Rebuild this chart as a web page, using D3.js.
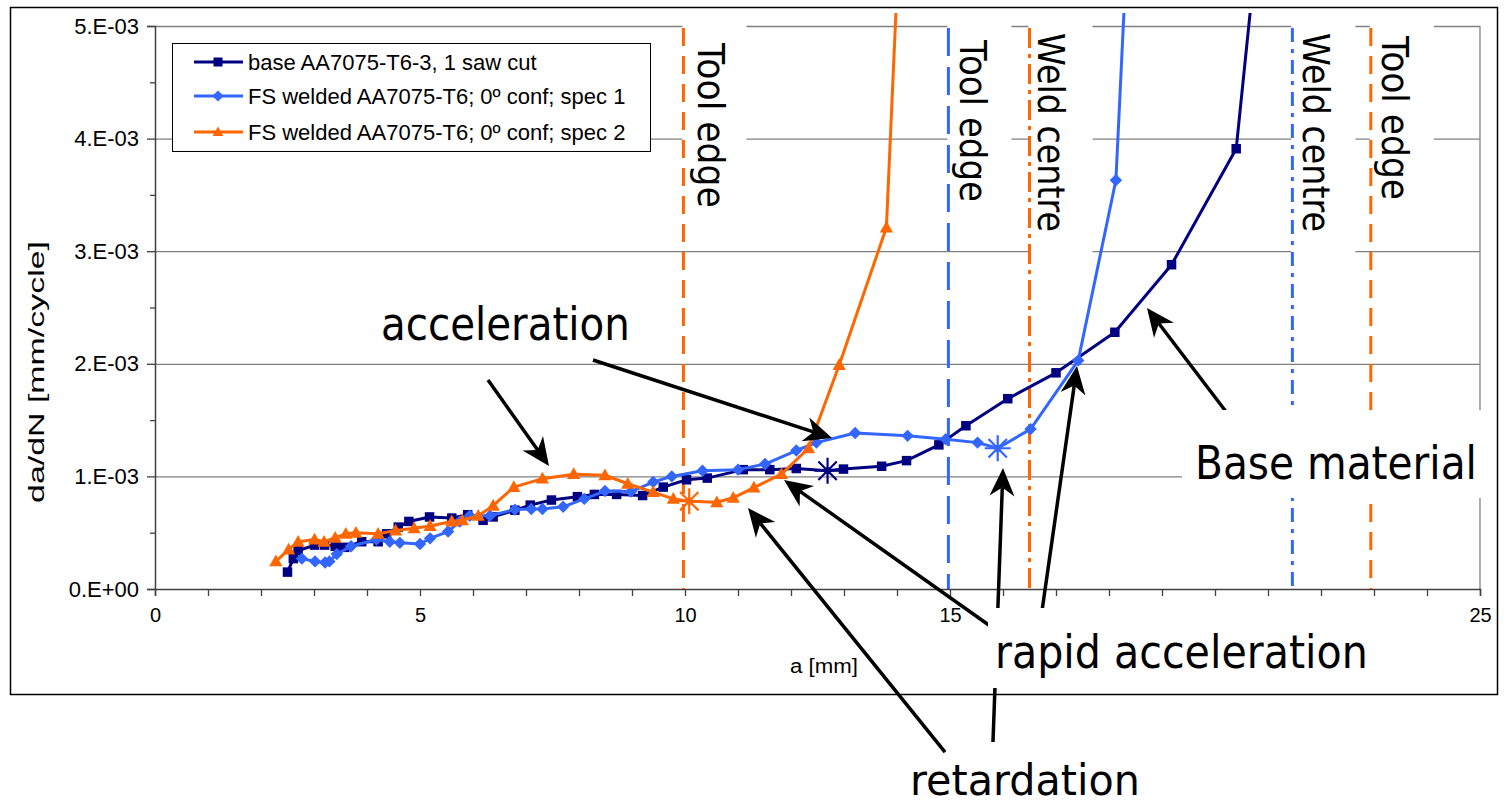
<!DOCTYPE html>
<html>
<head>
<meta charset="utf-8">
<script src="https://cdn.jsdelivr.net/npm/d3@7"></script>
<style>
  body { margin: 0; background: #fff; }
  svg { display: block; }
</style>
</head>
<body>
<svg id="chart" width="1509" height="805"></svg>
<script>
// Crack length a [mm] and growth rate da/dN [x1e-3 mm/cycle]
const baseA = [2.50, 2.61, 2.70, 3.01, 3.20, 3.40, 3.58, 3.90, 4.21, 4.37, 4.59, 4.79, 5.18, 5.60, 5.90, 6.19, 6.38, 6.79, 7.08, 7.48, 7.97, 8.29, 8.71, 9.20, 9.59, 10.03, 10.42, 11.10, 11.60, 12.10, 12.69, 12.99, 13.71, 14.18, 14.79, 15.30, 16.09, 17.00, 18.11, 19.18, 20.40, 20.80];
const baseRate = [0.15, 0.27, 0.34, 0.39, 0.39, 0.38, 0.37, 0.42, 0.42, 0.49, 0.55, 0.60, 0.64, 0.63, 0.66, 0.61, 0.64, 0.70, 0.745, 0.79, 0.82, 0.84, 0.84, 0.83, 0.905, 0.97, 0.985, 1.06, 1.06, 1.07, 1.05, 1.065, 1.09, 1.14, 1.28, 1.45, 1.69, 1.92, 2.28, 2.88, 3.91, 5.75];

const spec1A = [2.77, 3.02, 3.21, 3.29, 3.43, 3.70, 4.18, 4.43, 4.62, 5.00, 5.19, 5.53, 5.75, 5.94, 6.32, 6.79, 7.10, 7.31, 7.70, 8.10, 8.49, 8.98, 9.40, 9.75, 10.33, 11.00, 11.51, 12.10, 12.48, 13.21, 14.20, 14.92, 15.52, 15.90, 16.52, 17.42, 18.13, 18.30];
const spec1Rate = [0.27, 0.245, 0.235, 0.245, 0.31, 0.38, 0.44, 0.42, 0.41, 0.40, 0.45, 0.51, 0.60, 0.65, 0.65, 0.705, 0.71, 0.71, 0.73, 0.80, 0.87, 0.865, 0.95, 1.00, 1.05, 1.06, 1.11, 1.23, 1.30, 1.385, 1.36, 1.33, 1.30, 1.25, 1.42, 2.03, 3.63, 5.30];

const spec2A = [2.28, 2.52, 2.70, 3.01, 3.19, 3.40, 3.60, 3.79, 4.21, 4.54, 4.89, 5.19, 5.60, 5.80, 6.10, 6.38, 6.77, 7.31, 7.90, 8.49, 8.92, 9.40, 9.78, 10.08, 10.60, 10.91, 11.30, 11.82, 12.33, 12.91, 13.80, 14.10];
const spec2Rate = [0.245, 0.35, 0.42, 0.44, 0.42, 0.455, 0.49, 0.50, 0.49, 0.52, 0.54, 0.56, 0.60, 0.61, 0.65, 0.74, 0.905, 0.98, 1.02, 1.01, 0.935, 0.86, 0.80, 0.78, 0.77, 0.81, 0.90, 1.02, 1.25, 1.99, 3.21, 6.40];

// Points of each series picked out with an asterisk
const starA = [12.69, 15.90, 10.08];
const starRate = [1.05, 1.25, 0.78];

const seriesNames = ["base AA7075-T6-3, 1 saw cut", "FS welded AA7075-T6; 0º conf; spec 1", "FS welded AA7075-T6; 0º conf; spec 2"];
const seriesColors = ["#000080", "#3366ff", "#ff6600"];
const seriesMarkers = ["square", "diamond", "triangle"];

// Axis ticks
const yTickValues = [0, 1, 2, 3, 4, 5];
const yTickLabels = ["0.E+00", "1.E-03", "2.E-03", "3.E-03", "4.E-03", "5.E-03"];
const xTickValues = [0, 5, 10, 15, 20, 25];

// Tool edge / weld centre positions [mm]
const refPos = [9.97, 14.97, 16.5, 21.46, 22.94];
const refLabels = ["Tool edge", "Tool edge", "Weld centre", "Weld centre", "Tool edge"];
const refSeries = [2, 1, 2, 1, 2];

// ---------------- layout ----------------
const plot = { left: 155, right: 1480, top: 26, bottom: 589 };
const svg = d3.select("#chart");
const x = d3.scaleLinear().domain([0, 25]).range([plot.left, plot.right]);
const y = d3.scaleLinear().domain([0, 5]).range([plot.bottom, plot.top]);
const AXIS_FONT = "'Liberation Sans', Arial, sans-serif";
const NOTE_FONT = "'DejaVu Sans', Verdana, sans-serif";

// Squeeze a text along its own direction so that it spans `len` pixels.
function fitText(sel, len, prefix) {
  const natural = sel.node().getComputedTextLength();
  const k = natural > 0 ? len / natural : 1;
  sel.attr("transform", `${prefix} scale(${k},1)`);
  return sel;
}

svg.append("rect").attr("width", 1509).attr("height", 805).attr("fill", "#fff");

// chart frame
svg.append("rect")
  .attr("x", 10.5).attr("y", 7.5).attr("width", 1487).attr("height", 687)
  .attr("fill", "none").attr("stroke", "#000").attr("stroke-width", 1.5);

// horizontal gridlines
svg.append("g")
  .attr("transform", `translate(${plot.left},0)`)
  .call(d3.axisLeft(y).tickValues(yTickValues.slice(1)).tickSize(-(plot.right - plot.left)).tickFormat(""))
  .call(g => g.select(".domain").remove())
  .call(g => g.selectAll("line").attr("stroke", "#808080").attr("stroke-width", 1.3));

// right edge of plot area
svg.append("line")
  .attr("x1", plot.right).attr("x2", plot.right).attr("y1", plot.top).attr("y2", plot.bottom)
  .attr("stroke", "#808080").attr("stroke-width", 1.3);

// y axis: major + minor ticks
svg.append("g").attr("transform", `translate(${plot.left},0)`)
  .call(d3.axisLeft(y).tickValues(yTickValues).tickSize(8).tickPadding(8)
    .tickFormat((d, i) => yTickLabels[i]))
  .call(g => g.select(".domain").attr("stroke", "#404040").attr("stroke-width", 1.5))
  .call(g => g.selectAll("line").attr("stroke", "#404040").attr("stroke-width", 1.3))
  .call(g => g.selectAll("text").attr("font-family", AXIS_FONT).attr("font-size", 22).attr("fill", "#000"));
svg.append("g").attr("transform", `translate(${plot.left},0)`)
  .call(d3.axisLeft(y).tickValues(d3.range(0.5, 5, 1)).tickSize(5).tickFormat(""))
  .call(g => g.select(".domain").remove())
  .call(g => g.selectAll("line").attr("stroke", "#404040").attr("stroke-width", 1.3));

// x axis: a tick every mm, labels every 5 mm
svg.append("g").attr("transform", `translate(0,${plot.bottom})`)
  .call(d3.axisBottom(x).tickValues(d3.range(0, 26, 1)).tickSize(7).tickPadding(12)
    .tickFormat(d => xTickValues.includes(d) ? d : ""))
  .call(g => g.select(".domain").attr("stroke", "#404040").attr("stroke-width", 1.5))
  .call(g => g.selectAll("line").attr("stroke", "#404040").attr("stroke-width", 1.3))
  .call(g => g.selectAll("text").attr("font-family", AXIS_FONT).attr("font-size", 20).attr("fill", "#000"));

// axis titles
fitText(svg.append("text")
  .attr("text-anchor", "middle").attr("font-family", AXIS_FONT).attr("font-size", 21)
  .text("a [mm]"), 68, "translate(824,673)");
fitText(svg.append("text")
  .attr("text-anchor", "middle").attr("font-family", AXIS_FONT).attr("font-size", 22)
  .text("da/dN [mm/cycle]"), 262, "translate(44,372) rotate(-90)");

// ---------- reference lines with their rotated labels ----------
const refLayout = [
  { dx: 15, y0: 43, len: 165, boxBottom: 218, dash: "18,10" },
  { dx: 12, y0: 40, len: 162, boxBottom: 215, dash: "28,11" },
  { dx: 8, y0: 33, len: 199, boxBottom: 262, dash: "20,6,4,6" },
  { dx: 11, y0: 33, len: 199, boxBottom: 262, dash: "14,7,4,7" },
  { dx: 11, y0: 36, len: 164, boxBottom: 215, dash: "18,10" }
];
const refG = svg.append("g");
refPos.forEach((p, i) => {
  const L = refLayout[i];
  const px = x(p);
  refG.append("rect")
    .attr("x", px - 1).attr("y", plot.top - 4).attr("width", 64).attr("height", L.boxBottom - plot.top + 4)
    .attr("fill", "#fff");
  fitText(refG.append("text")
    .attr("font-family", NOTE_FONT).attr("font-size", 37)
    .text(refLabels[i]), L.len, `translate(${px + L.dx},${L.y0}) rotate(90)`);
});
refPos.forEach((p, i) => {
  refG.append("line")
    .attr("x1", x(p)).attr("x2", x(p)).attr("y1", plot.top + 2).attr("y2", plot.bottom)
    .attr("stroke", seriesColors[refSeries[i]]).attr("stroke-width", 3)
    .attr("stroke-dasharray", refLayout[i].dash);
});

// ---------------- legend ----------------
const markerPath = {
  square: s => `M${-s / 2},${-s / 2}h${s}v${s}h${-s}Z`,
  diamond: s => `M0,${-s * 0.62}L${s * 0.62},0L0,${s * 0.62}L${-s * 0.62},0Z`,
  triangle: s => `M0,${-s * 0.62}L${s * 0.6},${s * 0.45}L${-s * 0.6},${s * 0.45}Z`
};
const legend = svg.append("g");
legend.append("rect")
  .attr("x", 172.5).attr("y", 43.5).attr("width", 478).attr("height", 108)
  .attr("fill", "#fff").attr("stroke", "#000").attr("stroke-width", 1);
const legendRowY = [62, 96, 132];
seriesNames.forEach((name, i) => {
  const ly = legendRowY[i];
  legend.append("line").attr("x1", 194).attr("x2", 243).attr("y1", ly).attr("y2", ly)
    .attr("stroke", seriesColors[i]).attr("stroke-width", 3);
  legend.append("path").attr("transform", `translate(218,${ly})`)
    .attr("d", markerPath[seriesMarkers[i]](9)).attr("fill", seriesColors[i]);
  legend.append("text").attr("x", 248).attr("y", ly + 8)
    .attr("font-family", AXIS_FONT).attr("font-size", 22).text(name);
});

// ---------------- series ----------------
svg.append("defs").append("clipPath").attr("id", "plotClip")
  .append("rect").attr("x", plot.left - 8).attr("y", 13)
  .attr("width", plot.right - plot.left + 16).attr("height", plot.bottom - 13 + 10);

const series = [
  { a: baseA, r: baseRate },
  { a: spec1A, r: spec1Rate },
  { a: spec2A, r: spec2Rate }
];
const dataG = svg.append("g").attr("clip-path", "url(#plotClip)");
const line = d3.line().x(d => x(d[0])).y(d => y(d[1]));
const markerSize = [9.5, 10, 11];

series.forEach((s, i) => {
  const pts = s.a.map((a, k) => [a, s.r[k]]);
  dataG.append("path").datum(pts).attr("d", line)
    .attr("fill", "none").attr("stroke", seriesColors[i]).attr("stroke-width", 3)
    .attr("stroke-linejoin", "round");
  dataG.selectAll(null)
    .data(pts.filter(p => p[1] <= 5 && !(p[0] === starA[i] && p[1] === starRate[i])))
    .join("path")
    .attr("transform", p => `translate(${x(p[0])},${y(p[1])})`)
    .attr("d", markerPath[seriesMarkers[i]](markerSize[i]))
    .attr("fill", seriesColors[i]);
});

// asterisk markers
starA.forEach((a, i) => {
  const r = 13;
  const spokes = d3.range(4).map(k => {
    const t = k * Math.PI / 4;
    return `M${-r * Math.cos(t)},${-r * Math.sin(t)}L${r * Math.cos(t)},${r * Math.sin(t)}`;
  }).join("");
  dataG.append("path")
    .attr("transform", `translate(${x(a)},${y(starRate[i])})`)
    .attr("d", spokes).attr("stroke", seriesColors[i]).attr("stroke-width", 2.2).attr("fill", "none");
  dataG.append("circle").attr("cx", x(a)).attr("cy", y(starRate[i])).attr("r", 3.5)
    .attr("fill", seriesColors[i]);
});

// ---------------- arrows (tail / tip in data units) ----------------
const arrows = [
  { from: [6.283, 1.856], to: [7.434, 1.092] },
  { from: [8.264, 2.034], to: [12.774, 1.341] },
  { from: [14.906, -1.448], to: [11.189, 0.719] },
  { from: [15.811, -0.346], to: [11.868, 0.968] },
  { from: [15.811, -1.359], to: [16.0, 1.075] },
  { from: [16.698, -0.320], to: [17.396, 1.980] },
  { from: [20.472, 1.412], to: [18.717, 2.496] }
];
const arrowG = svg.append("g");
arrows.forEach(ar => {
  const x1 = x(ar.from[0]), y1 = y(ar.from[1]);
  const x2 = x(ar.to[0]), y2 = y(ar.to[1]);
  const len = Math.hypot(x2 - x1, y2 - y1);
  const ux = (x2 - x1) / len, uy = (y2 - y1) / len;
  const nx = -uy, ny = ux;
  const L = 28, Wd = 12.5;
  const sx = x2 - ux * L * 0.7, sy = y2 - uy * L * 0.7;
  arrowG.append("line").attr("x1", x1).attr("y1", y1).attr("x2", sx).attr("y2", sy)
    .attr("stroke", "#000").attr("stroke-width", 3.5);
  arrowG.append("path")
    .attr("d", `M${x2},${y2}L${x2 - ux * L + nx * Wd},${y2 - uy * L + ny * Wd}L${sx},${sy}L${x2 - ux * L - nx * Wd},${y2 - uy * L - ny * Wd}Z`)
    .attr("fill", "#000");
});

// ---------------- annotation texts ----------------
const notes = [
  { text: "acceleration", x: 381, y: 340, len: 249, size: 46, box: null },
  { text: "rapid acceleration", x: 995, y: 668, len: 373, size: 46, box: [988, 608, 392, 80] },
  { text: "Base material", x: 1195, y: 479, len: 282, size: 46, box: [1182, 410, 308, 88] },
  { text: "retardation", x: 910, y: 795, len: 230, size: 43, box: null }
];
const noteG = svg.append("g");
notes.forEach(n => {
  if (n.box) {
    noteG.append("rect").attr("x", n.box[0]).attr("y", n.box[1])
      .attr("width", n.box[2]).attr("height", n.box[3]).attr("fill", "#fff");
  }
  fitText(noteG.append("text")
    .attr("font-family", NOTE_FONT).attr("font-size", n.size)
    .text(n.text), n.len, `translate(${n.x},${n.y})`);
});
</script>
</body>
</html>
